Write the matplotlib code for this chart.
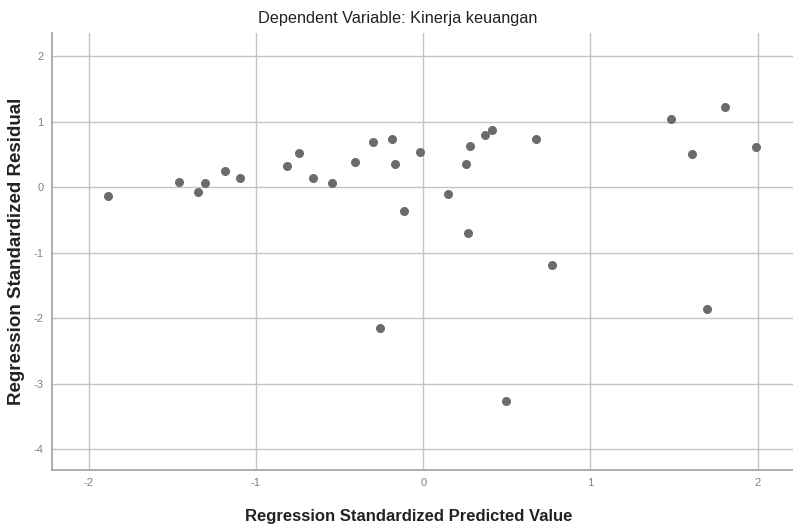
import matplotlib
matplotlib.use("Agg")
import matplotlib.pyplot as plt

# predicted (standardized) vs residual (standardized)
pred = [-1.888, -1.463, -1.344, -1.305, -1.184, -1.094, -0.815, -0.741,
        -0.659, -0.546, -0.407, -0.301, -0.257, -0.185, -0.166, -0.114,
        -0.022, 0.148, 0.255, 0.277, 0.271, 0.369, 0.414, 0.496,
        0.676, 0.770, 1.481, 1.610, 1.696, 1.804, 1.993]
resid = [-0.133, 0.081, -0.081, 0.056, 0.244, 0.133, 0.325, 0.519,
         0.142, 0.056, 0.377, 0.682, -2.148, 0.728, 0.351, -0.362,
         0.539, -0.107, 0.351, 0.621, -0.702, 0.799, 0.866, -3.272,
         0.728, -1.191, 1.038, 0.504, -1.863, 1.219, 0.606]

x_ticks = [-2, -1, 0, 1, 2]
y_ticks = [2, 1, 0, -1, -2, -3, -4]

plt.rcParams["font.family"] = ["Liberation Sans", "DejaVu Sans"]
plt.rcParams["axes.unicode_minus"] = False

fig = plt.figure(figsize=(7.93, 5.29), dpi=100)
ax = fig.add_axes([0.0656, 0.1115, 0.934, 0.826])

ax.scatter(pred, resid, s=30, color="#6b6b6b", edgecolors="#6b6b6b", zorder=3)

ax.set_xlim(-2.22, 2.21)
ax.set_ylim(-4.32, 2.35)
ax.set_xticks(x_ticks)
ax.set_yticks(y_ticks)
ax.tick_params(labelsize=8, colors="#808080", length=0, pad=6)
ax.grid(color="#c4c4c4", linewidth=1.0)
ax.set_axisbelow(True)

for s in ["top", "right"]:
    ax.spines[s].set_visible(False)
for s in ["left", "bottom"]:
    ax.spines[s].set_color("#a0a0a0")
    ax.spines[s].set_linewidth(1.2)

ax.set_title("Dependent Variable: Kinerja keuangan", fontsize=11.7, color="#222222",
             pad=7, x=0.467)
ax.set_xlabel("Regression Standardized Predicted Value", fontsize=12, fontweight="bold",
              color="#222222")
ax.xaxis.set_label_coords(0.482, -0.09)
ax.set_ylabel("Regression Standardized Residual", fontsize=13.5, fontweight="bold",
              color="#222222")
ax.yaxis.set_label_coords(-0.036, 0.5)

fig.savefig("out.png", dpi=100)
